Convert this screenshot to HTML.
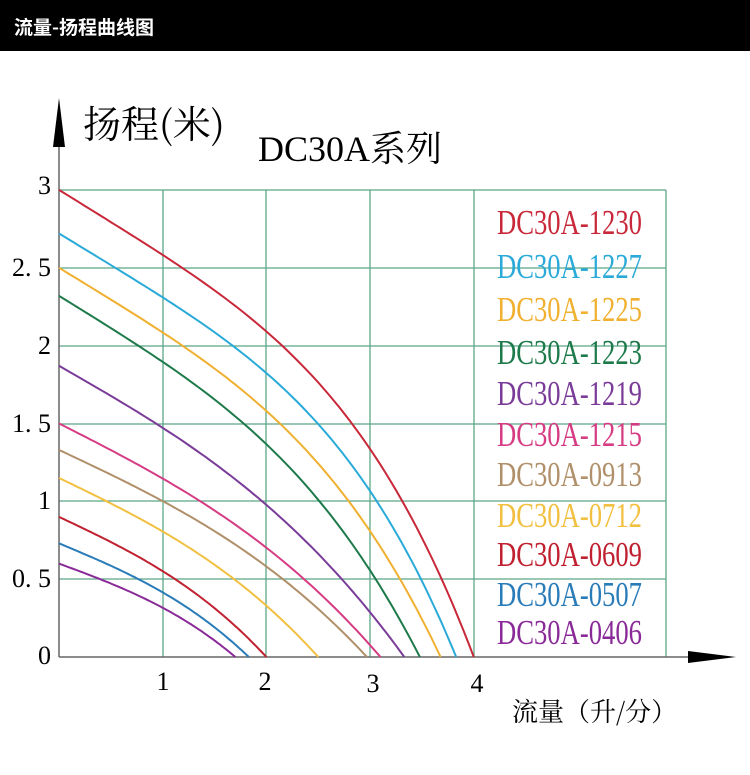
<!DOCTYPE html>
<html><head><meta charset="utf-8"><style>
body{margin:0;width:750px;height:770px;background:#fff;overflow:hidden}
</style></head><body>
<svg width="750" height="770" xmlns="http://www.w3.org/2000/svg" font-family="Liberation Serif, 'Noto Serif CJK SC', serif">
<rect x="0" y="0" width="750" height="51" fill="#000"/>
<text x="14" y="34" fill="#fff" font-size="19" font-weight="bold" font-family="'Noto Sans CJK SC', sans-serif">流量-扬程曲线图</text>
<g stroke="#5aa888" stroke-width="1.3" fill="none">
<line x1="59" y1="190" x2="666" y2="190"/>
<line x1="59" y1="268" x2="666" y2="268"/>
<line x1="59" y1="346" x2="666" y2="346"/>
<line x1="59" y1="424" x2="666" y2="424"/>
<line x1="59" y1="501" x2="666" y2="501"/>
<line x1="59" y1="579" x2="666" y2="579"/>
<line x1="163" y1="190" x2="163" y2="657"/>
<line x1="266" y1="190" x2="266" y2="657"/>
<line x1="370" y1="190" x2="370" y2="657"/>
<line x1="474" y1="190" x2="474" y2="657"/>
<line x1="666" y1="190" x2="666" y2="657"/>
</g>
<g stroke="#666" stroke-width="1.5">
<line x1="59" y1="120" x2="59" y2="657"/>
<line x1="59" y1="657" x2="700" y2="657"/>
</g>
<polygon points="59,98 53,147 65,147" fill="#000"/>
<polygon points="736,657 688,651 688,663" fill="#000"/>
<g id="curves" fill="none" stroke-width="2"></g>
<text x="83" y="138" font-size="38" font-family="'Noto Serif CJK SC', serif">扬程(米)</text>
<text x="258" y="161" font-size="36">DC30A<tspan font-family="'Noto Serif CJK SC', serif">系列</tspan></text>
<g font-size="26" text-anchor="end">
<text x="51" y="194">3</text>
<text x="51" y="276">2. 5</text>
<text x="51" y="354">2</text>
<text x="51" y="432">1. 5</text>
<text x="51" y="509">1</text>
<text x="51" y="587">0. 5</text>
<text x="51" y="664">0</text>
</g>
<g font-size="26" text-anchor="middle">
<text x="163" y="690">1</text>
<text x="265" y="690">2</text>
<text x="373" y="692">3</text>
<text x="477" y="692">4</text>
</g>
<text x="512" y="721" font-size="26" font-family="'Noto Serif CJK SC', serif">流量（升/分）</text>
<g id="legend" font-size="35"></g>
</svg>
<script>
var S=[["1230",3,4.0,.55,4,"#c8283a"],["1227",2.72,3.83,.57,4,"#2aaad8"],["1225",2.5,3.68,.6,3.7,"#f0b030"],["1223",2.32,3.48,.62,3.5,"#1e7a4a"],["1219",1.87,3.33,.68,3,"#7a3c98"],["1215",1.5,3.1,.7,3,"#d63c84"],["0913",1.33,2.97,.7,3,"#b0906a"],["0712",1.15,2.5,.7,3,"#f2c040"],["0609",0.9,2.0,.7,3,"#c02030"],["0507",0.73,1.83,.7,3,"#2a7cb8"],["0406",0.6,1.7,.7,3,"#8a2a98"]];
var ns="http://www.w3.org/2000/svg",c=document.getElementById("curves"),l=document.getElementById("legend");
var ly=[222,266,309,352,393,434,474,515,554,594,632];
S.forEach(function(s,i){var d="";for(var k=0;k<=80;k++){var t=k/80,q=s[2]*t,h=s[1]*(1-s[3]*t-(1-s[3])*Math.pow(t,s[4]));d+=(k?"L":"M")+(59+q*103.7).toFixed(1)+","+(657-h*155.7).toFixed(1);}
var p=document.createElementNS(ns,"path");p.setAttribute("d",d);p.setAttribute("stroke",s[5]);c.appendChild(p);
var tx=document.createElementNS(ns,"text");tx.setAttribute("x",497);tx.setAttribute("y",ly[i]+12);tx.setAttribute("fill",s[5]);tx.setAttribute("textLength",145);tx.setAttribute("lengthAdjust","spacingAndGlyphs");tx.textContent="DC30A-"+s[0];l.appendChild(tx);});
</script>
</body></html>
